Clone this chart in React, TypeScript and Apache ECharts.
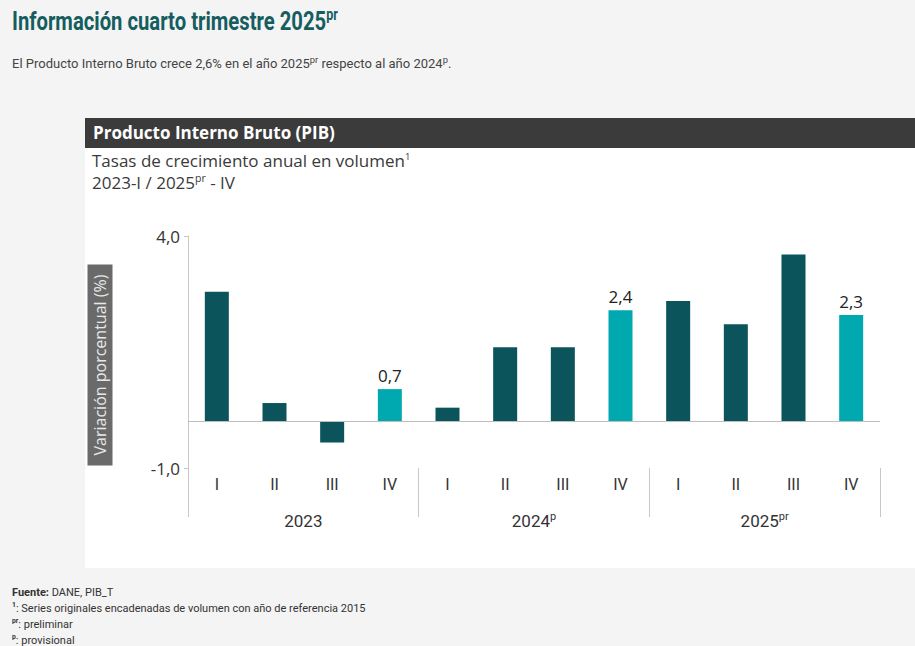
import React, { useEffect, useRef } from "react";
import * as echarts from "echarts";

const years = ["2023", "2024", "2025"];
const yearSup = ["", "p", "pr"];
const quarters = ["I", "II", "III", "IV"];
const values = [2.8, 0.4, -0.45, 0.7, 0.3, 1.6, 1.6, 2.4, 2.6, 2.1, 3.6, 2.3];
const yTicks = [-1, 4];
const yMin = -1;
const yMax = 4;

const DARK = "#0b545b";
const LIGHT = "#00a9b0";
const NARROW = "Roboto";

const fmt = (v: number) => v.toFixed(1).replace(".", ",");

function Chart() {
  const ref = useRef<HTMLDivElement>(null);
  useEffect(() => {
    if (!ref.current) return;
    const chart = echarts.init(ref.current, undefined, { renderer: "svg" });
    const cats: string[] = [];
    years.forEach(() => quarters.forEach((q) => cats.push(q)));
    const data = values.map((v, i) => {
      const hi = cats[i] === "IV";
      return {
        value: v,
        itemStyle: { color: hi ? LIGHT : DARK },
        label: { show: hi },
      };
    });
    chart.setOption({
      animation: false,
      grid: { left: 103, right: 35, top: 36, bottom: 100 },
      xAxis: [
        {
          type: "category",
          data: cats,
          position: "bottom",
          axisLine: { show: false, onZero: false },
          axisTick: { show: false },
          axisLabel: {
            interval: 0,
            margin: 8,
            fontSize: 16,
            color: "#333",
            fontFamily: NARROW,
          },
        },
        {
          type: "category",
          data: years,
          position: "bottom",
          axisLine: { show: false, onZero: false },
          axisTick: { show: true, length: 49, lineStyle: { color: "#c8c8c8", width: 1 } },
          axisLabel: {
            interval: 0,
            margin: 43,
            formatter: (v: string) => {
              const s = yearSup[years.indexOf(v)];
              return s ? `{b|${v}}{s|${s}}` : `{b|${v}}`;
            },
            rich: {
              b: { fontSize: 17, color: "#333", fontFamily: NARROW, lineHeight: 20 },
              s: { fontSize: 11, color: "#333", fontFamily: NARROW, lineHeight: 20, verticalAlign: "top", padding: [0, 0, 8, 0] },
            },
          },
        },
      ],
      yAxis: {
        type: "value",
        min: yMin,
        max: yMax,
        axisLine: { show: true, lineStyle: { color: "#c8c8c8" } },
        axisTick: { show: true, length: 4, customValues: yTicks, lineStyle: { color: "#c8c8c8" } },
        axisLabel: {
          customValues: yTicks,
          formatter: (v: number) => fmt(v),
          fontSize: 17,
          color: "#333",
          fontFamily: "Open Sans",
          margin: 8,
        },
        splitLine: { show: false },
      },
      series: [
        {
          type: "bar",
          data,
          barWidth: 24,
          xAxisIndex: 0,
          label: {
            position: "top",
            distance: 5,
            fontSize: 17,
            color: "#222",
            fontFamily: "Open Sans",
            formatter: (p: any) => fmt(p.value),
          },
          markLine: {
            silent: true,
            symbol: "none",
            label: { show: false },
            lineStyle: { color: "#bdbdbd", width: 1, type: "solid" },
            data: [{ yAxis: 0 }],
          },
        },
      ],
      graphic: [
        {
          type: "text",
          x: 15,
          y: 165,
          rotation: Math.PI / 2,
          style: {
            text: "Variación porcentual (%)",
            fill: "#e8e8e8",
            font: "16px 'Open Sans'",
            align: "center",
            verticalAlign: "middle",
            backgroundColor: "#6a6a6a",
            padding: [5, 10, 4, 10],
          },
        },
      ],
    });
    return () => chart.dispose();
  }, []);
  return <div ref={ref} style={{ position: "absolute", left: 0, top: 82, width: 830, height: 368 }} />;
}

export default function App() {
  const sup = { fontSize: "0.62em", verticalAlign: "super", lineHeight: 0 } as const;
  const sup2 = { fontSize: "0.72em", verticalAlign: "super", lineHeight: 0 } as const;
  return (
    <div
      style={{
        position: "fixed",
        left: 0,
        top: 0,
        width: 915,
        height: 646,
        background: "#f4f4f4",
        overflow: "hidden",
        fontFamily: "Roboto",
      }}
    >
      <div
        style={{
          position: "absolute",
          left: 12,
          top: 5,
          fontFamily: "Roboto",
          fontWeight: 700,
          fontSize: 25,
          lineHeight: "32px",
          color: "#155d5f",
          whiteSpace: "nowrap",
          transform: "scale(0.81, 1.05)",
          transformOrigin: "0 0",
        }}
      >
        Información cuarto trimestre 2025<span style={sup}>pr</span>
      </div>
      <div
        style={{
          position: "absolute",
          left: 12,
          top: 56,
          fontSize: 13,
          lineHeight: "16px",
          color: "#444",
          whiteSpace: "nowrap",
        }}
      >
        El Producto Interno Bruto crece 2,6% en el año 2025<span style={sup2}>pr</span> respecto al año 2024
        <span style={sup2}>p</span>.
      </div>
      <div style={{ position: "absolute", left: 85, top: 118, width: 830, height: 450, background: "#ffffff" }}>
        <div
          style={{
            position: "absolute",
            left: 0,
            top: 0,
            width: 830,
            height: 30,
            background: "#3b3b3b",
            color: "#fff",
            fontFamily: "'Open Sans'",
            fontWeight: 700,
            fontSize: 17,
            lineHeight: "30px",
            paddingLeft: 8,
            boxSizing: "border-box",
          }}
        >
          Producto Interno Bruto (PIB)
        </div>
        <div
          style={{
            position: "absolute",
            left: 7,
            top: 32,
            fontFamily: "'Open Sans'",
            fontSize: 17,
            lineHeight: "22px",
            color: "#3a3a3a",
            whiteSpace: "nowrap",
          }}
        >
          Tasas de crecimiento anual en volumen<span style={{ fontSize: "0.55em", verticalAlign: "super", lineHeight: 0 }}>1</span>
          <br />
          2023-I / 2025<span style={sup}>pr</span> - IV
        </div>
        <Chart />
      </div>
      <div
        style={{
          position: "absolute",
          left: 12,
          top: 585,
          fontSize: 11,
          lineHeight: "16px",
          color: "#333",
          whiteSpace: "nowrap",
        }}
      >
        <div>
          <b>Fuente:</b> DANE, PIB_T
        </div>
        <div>
          <b style={sup}>1</b>: Series originales encadenadas de volumen con año de referencia 2015
        </div>
        <div>
          <b style={sup}>pr</b>: preliminar
        </div>
        <div>
          <b style={sup}>p</b>: provisional
        </div>
      </div>
    </div>
  );
}
